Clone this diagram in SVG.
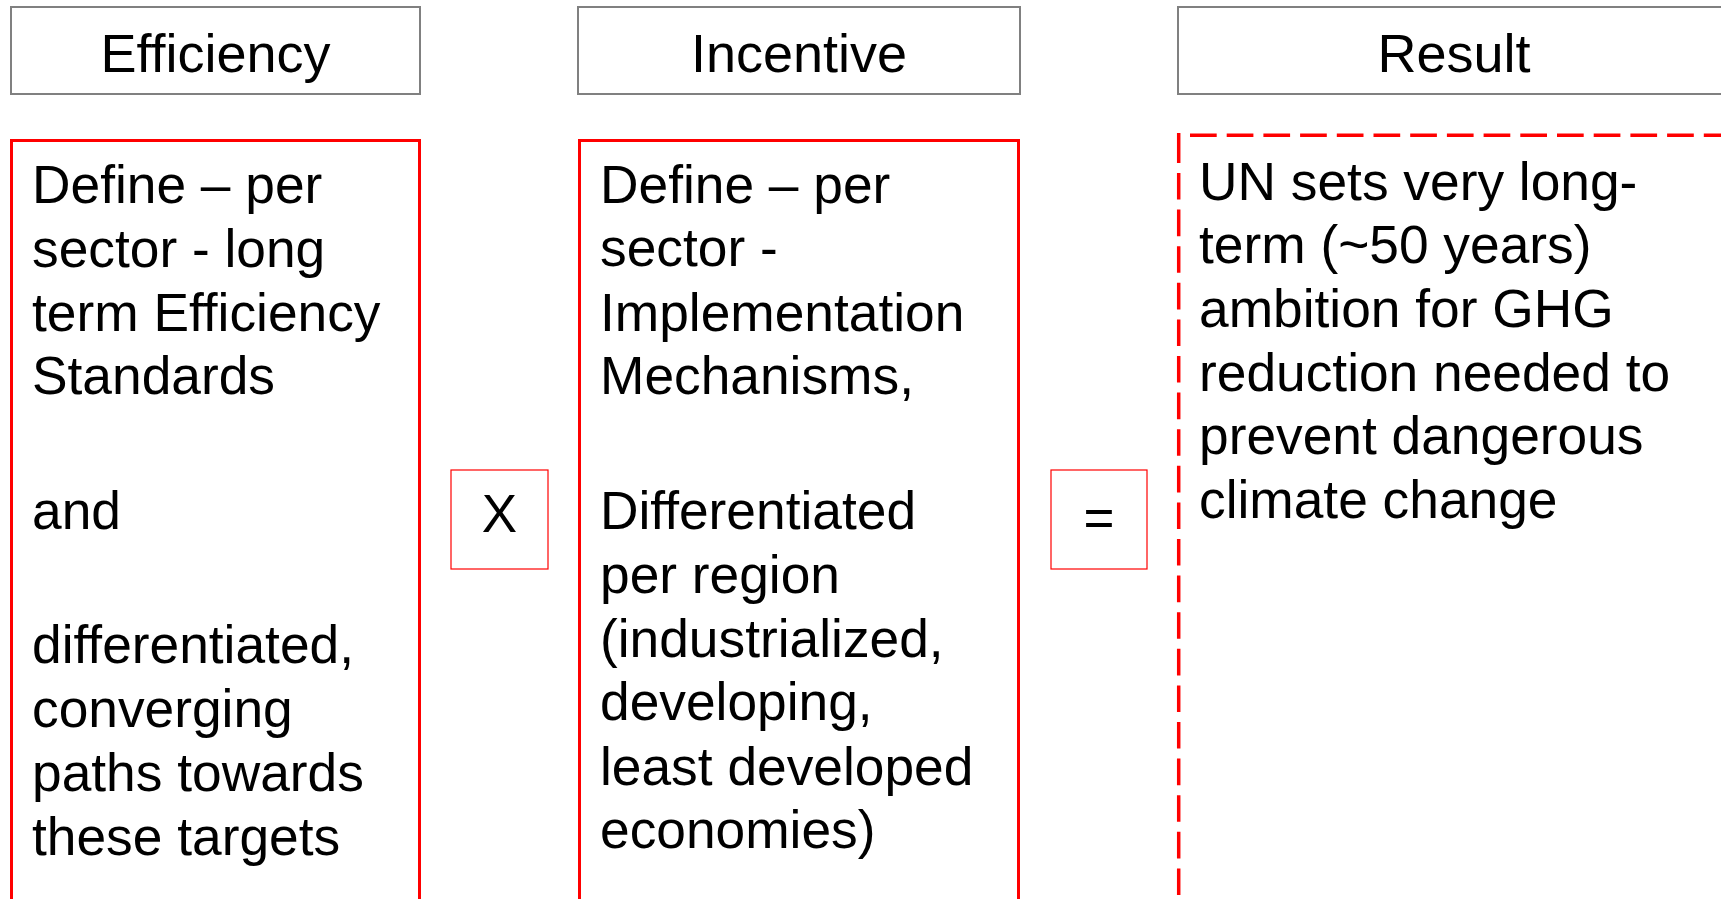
<svg xmlns="http://www.w3.org/2000/svg" width="1721" height="899" viewBox="0 0 1721 899">
  <style>
    text { font-family: "Liberation Sans", Arial, sans-serif; fill: #000; }
    .head { fill: #fff; stroke: #808080; stroke-width: 2; }
    .headtxt { font-size: 54px; text-anchor: middle; }
    .panel { fill: #fff; stroke: #ff0000; stroke-width: 3; }
    .op { fill: #fff; stroke: #ff0000; stroke-width: 1.2; }
    .optxt { font-size: 53px; text-anchor: middle; }
    .body { font-size: 53.3px; }
    .dash { fill: none; stroke: #ff0000; stroke-width: 3.5; }
  </style>
  <rect width="1721" height="899" fill="#fff"/>

  <!-- column headers -->
  <g id="head-efficiency">
    <rect class="head" x="11" y="7" width="409" height="87"/>
    <text class="headtxt" x="215.5" y="72">Efficiency</text>
  </g>
  <g id="head-incentive">
    <rect class="head" x="578" y="7" width="442" height="87"/>
    <text class="headtxt" x="799" y="72">Incentive</text>
  </g>
  <g id="head-result">
    <rect class="head" x="1178" y="7" width="580" height="87"/>
    <text class="headtxt" x="1454" y="72">Result</text>
  </g>

  <!-- efficiency panel -->
  <g id="panel-efficiency">
    <rect class="panel" x="11.5" y="140.5" width="408" height="760"/>
    <text class="body" x="32">
      <tspan x="32" y="203">Define – per</tspan>
      <tspan x="32" y="267">sector - long</tspan>
      <tspan x="32" y="331">term Efficiency</tspan>
      <tspan x="32" y="394">Standards</tspan>
      <tspan x="32" y="529">and</tspan>
      <tspan x="32" y="663">differentiated,</tspan>
      <tspan x="32" y="727">converging</tspan>
      <tspan x="32" y="791">paths towards</tspan>
      <tspan x="32" y="855">these targets</tspan>
    </text>
  </g>

  <!-- multiply operator -->
  <g id="op-times">
    <rect class="op" x="451" y="470" width="97" height="99"/>
    <text class="optxt" x="499.5" y="532">X</text>
  </g>

  <!-- incentive panel -->
  <g id="panel-incentive">
    <rect class="panel" x="579.5" y="140.5" width="439" height="760"/>
    <text class="body" x="600">
      <tspan x="600" y="203">Define – per</tspan>
      <tspan x="600" y="266">sector -</tspan>
      <tspan x="600" y="331">Implementation</tspan>
      <tspan x="600" y="394">Mechanisms,</tspan>
      <tspan x="600" y="529">Differentiated</tspan>
      <tspan x="600" y="593">per region</tspan>
      <tspan x="600" y="657">(industrialized,</tspan>
      <tspan x="600" y="720">developing,</tspan>
      <tspan x="600" y="785">least developed</tspan>
      <tspan x="600" y="848">economies)</tspan>
    </text>
  </g>

  <!-- equals operator -->
  <g id="op-equals">
    <rect class="op" x="1051" y="470" width="96" height="99"/>
    <text class="optxt" x="1099" y="536">=</text>
  </g>

  <!-- result panel (long-dash outline, open to the right and bottom) -->
  <g id="panel-result">
    <line class="dash" x1="1190" y1="135.3" x2="1740" y2="135.3" stroke-dasharray="26.7 10"/>
    <line class="dash" x1="1178.7" y1="133" x2="1178.7" y2="163"/>
    <line class="dash" x1="1178.7" y1="173" x2="1178.7" y2="910" stroke-dasharray="26.6 10"/>
    <text class="body" x="1199">
      <tspan x="1199" y="200">UN sets very long-</tspan>
      <tspan x="1199" y="263">term (~50 years)</tspan>
      <tspan x="1199" y="327">ambition for GHG</tspan>
      <tspan x="1199" y="391">reduction needed to</tspan>
      <tspan x="1199" y="454">prevent dangerous</tspan>
      <tspan x="1199" y="518">climate change</tspan>
    </text>
  </g>

  <g id="connectors"></g>
</svg>
